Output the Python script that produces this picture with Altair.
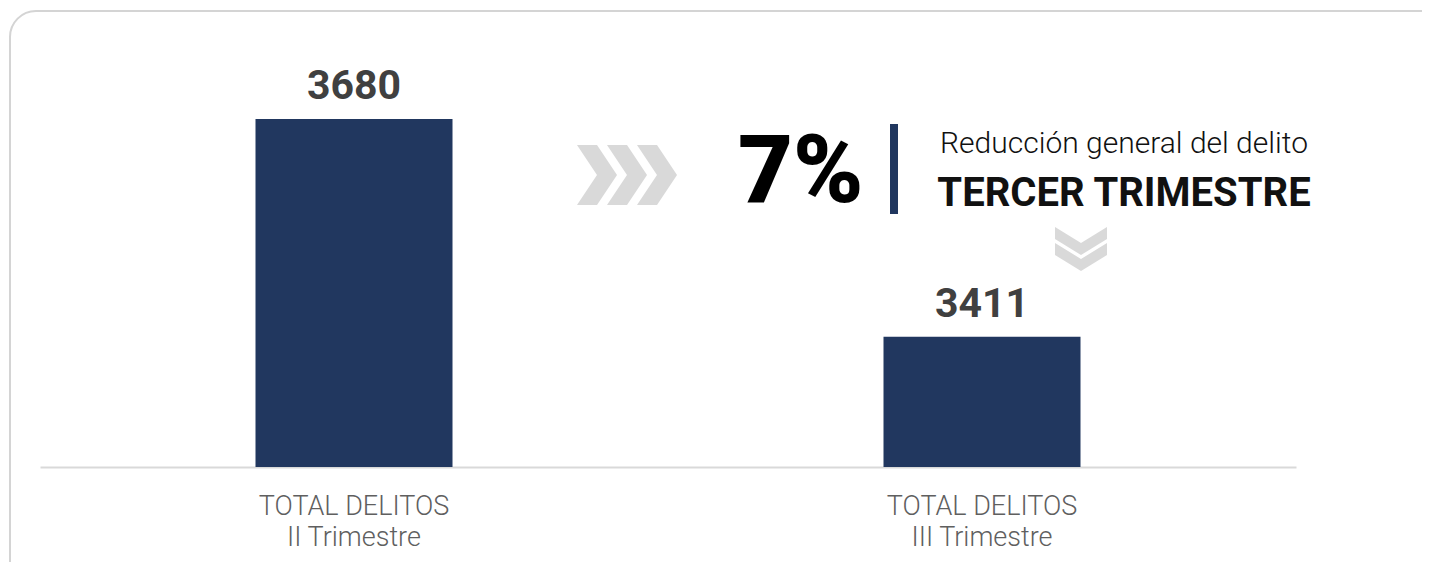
import altair as alt
import pandas as pd

# ---- data ----
categories = ["TOTAL DELITOS|II Trimestre", "TOTAL DELITOS|III Trimestre"]
values = [3680, 3411]
pct_text = "7%"
subtitle_top = "Reducción general del delito"
subtitle_bottom = "TERCER TRIMESTRE"

df = pd.DataFrame({"cat": categories, "val": values})
one = pd.DataFrame({"k": [0]})

FONT = "Roboto"
NAVY = "#21375f"
GREY = "#d9d9d9"

# chevron shapes (pixel offsets, size=4 -> scale 1)
right_chev = " ".join(
    f"M{c-20},-30 L{c},-30 L{c+20},0 L{c},30 L{c-20},30 L{c},0 Z" for c in (-30, 0, 30)
)
down_chev = " ".join(
    f"M-26,{y0} L0,{y0+16} L26,{y0} L26,{y0+12} L0,{y0+28} L-26,{y0+12} Z" for y0 in (-22, -6)
)

x = alt.X(
    "cat:N",
    sort=categories,
    scale=alt.Scale(paddingInner=0, paddingOuter=0),
    axis=alt.Axis(
        title=None, labelAngle=0, ticks=False, grid=False,
        domainColor=GREY, domainWidth=2,
        labelFont=FONT, labelFontSize=27, labelFontWeight=300, labelColor="#5f5f5f",
        labelPadding=26, labelLineHeight=31, labelLimit=500,
        labelExpr="split(datum.label, '|')",
    ),
)
y = alt.Y(
    "val:Q",
    scale=alt.Scale(domain=[3250, 3790], nice=False, zero=False, clamp=True),
    axis=None,
)

border = alt.Chart(one).mark_rect(
    fill="white", fillOpacity=0, stroke="#d4d4d4", strokeWidth=2, cornerRadius=26
).encode(x=alt.value(-30), x2=alt.value(1500), y=alt.value(-19), y2=alt.value(700))

bars = alt.Chart(df).mark_bar(size=197, color=NAVY).encode(x=x, y=y)

labels = alt.Chart(df).mark_text(
    dy=-20, baseline="alphabetic", font=FONT, fontSize=41, fontWeight="bold", color="#404040"
).encode(x=x, y=y, text=alt.Text("val:Q", format="d"))

pct = alt.Chart(one).mark_text(
    align="left", baseline="alphabetic", font=FONT, fontSize=95, fontWeight=900, color="#000000"
).encode(x=alt.value(698), y=alt.value(172), text=alt.value(pct_text))

vbar = alt.Chart(one).mark_rect(color=NAVY).encode(
    x=alt.value(850), x2=alt.value(858), y=alt.value(94), y2=alt.value(184)
)

sub1 = alt.Chart(one).mark_text(
    align="center", baseline="alphabetic", font=FONT, fontSize=30, fontWeight=300, color="#111111"
).encode(x=alt.value(1084), y=alt.value(123), text=alt.value(subtitle_top))

sub2 = alt.Chart(one).mark_text(
    align="center", baseline="alphabetic", font=FONT, fontSize=40, fontWeight="bold", color="#111111"
).encode(x=alt.value(1084), y=alt.value(176), text=alt.value(subtitle_bottom))

chev_r = alt.Chart(one).mark_point(
    shape=right_chev, size=4, filled=True, color=GREY, opacity=1, strokeWidth=0
).encode(x=alt.value(587), y=alt.value(145))

chev_d = alt.Chart(one).mark_point(
    shape=down_chev, size=4, filled=True, color=GREY, opacity=1, strokeWidth=0
).encode(x=alt.value(1041), y=alt.value(219))

chart = alt.layer(border, bars, labels, chev_r, chev_d, pct, vbar, sub1, sub2).properties(
    width=1256,
    height=437,
    autosize=alt.AutoSizeParams(type="none"),
    padding={"left": 32, "top": 22, "right": 126, "bottom": 95},
).configure_view(stroke=None)

chart.save("out.html", embed_options={"renderer": "svg", "actions": False})
